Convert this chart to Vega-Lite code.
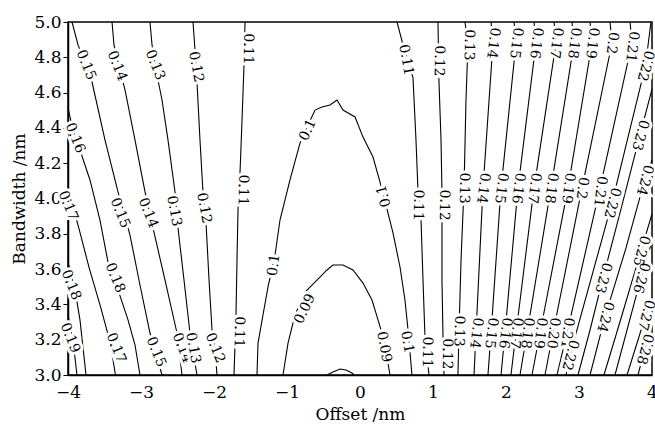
{
"$schema": "https://vega.github.io/schema/vega-lite/v6.json",
"width": 584, "height": 353,
"autosize": {"type": "none"},
"padding": {"left": 68, "top": 22, "right": 3, "bottom": 49},
"background": "white",
"config": {
  "view": {"stroke": "black", "strokeWidth": 1.5},
  "font": "DejaVu Serif",
  "axis": {"grid": false, "domainColor": "black", "domainWidth": 1.5, "tickColor": "black", "labelColor": "black", "titleColor": "black", "labelFont": "DejaVu Serif", "titleFont": "DejaVu Serif", "labelFontSize": 17, "titleFontSize": 17, "titleFontWeight": "normal"}
},
"datasets": {
 "lines": [
  {"c":"L15","i":0,"x":-3.945,"y":5.0},{"c":"L15","i":1,"x":-3.863,"y":4.87},{"c":"L15","i":2,"x":-3.753,"y":4.756},{"c":"L15","i":3,"x":-3.671,"y":4.66},{"c":"L15","i":4,"x":-3.493,"y":4.331},{"c":"L15","i":5,"x":-3.315,"y":4.037},{"c":"L15","i":6,"x":-3.151,"y":3.793},{"c":"L15","i":7,"x":-3.014,"y":3.51},{"c":"L15","i":8,"x":-2.877,"y":3.238},{"c":"L15","i":9,"x":-2.712,"y":3.0},
  {"c":"L14","i":0,"x":-3.397,"y":5.0},{"c":"L14","i":1,"x":-3.37,"y":4.87},{"c":"L14","i":2,"x":-3.288,"y":4.728},{"c":"L14","i":3,"x":-3.219,"y":4.615},{"c":"L14","i":4,"x":-3.082,"y":4.331},{"c":"L14","i":5,"x":-2.945,"y":4.037},{"c":"L14","i":6,"x":-2.836,"y":3.833},{"c":"L14","i":7,"x":-2.671,"y":3.538},{"c":"L14","i":8,"x":-2.507,"y":3.238},{"c":"L14","i":9,"x":-2.438,"y":3.0},
  {"c":"L13","i":0,"x":-2.877,"y":5.0},{"c":"L13","i":1,"x":-2.849,"y":4.87},{"c":"L13","i":2,"x":-2.795,"y":4.728},{"c":"L13","i":3,"x":-2.712,"y":4.558},{"c":"L13","i":4,"x":-2.63,"y":4.331},{"c":"L13","i":5,"x":-2.534,"y":4.037},{"c":"L13","i":6,"x":-2.493,"y":3.833},{"c":"L13","i":7,"x":-2.411,"y":3.538},{"c":"L13","i":8,"x":-2.329,"y":3.238},{"c":"L13","i":9,"x":-2.233,"y":3.0},
  {"c":"L12","i":0,"x":-2.288,"y":5.0},{"c":"L12","i":1,"x":-2.26,"y":4.841},{"c":"L12","i":2,"x":-2.233,"y":4.66},{"c":"L12","i":3,"x":-2.192,"y":4.331},{"c":"L12","i":4,"x":-2.151,"y":4.037},{"c":"L12","i":5,"x":-2.11,"y":3.867},{"c":"L12","i":6,"x":-2.068,"y":3.538},{"c":"L12","i":7,"x":-2.027,"y":3.255},{"c":"L12","i":8,"x":-1.986,"y":3.142},{"c":"L12","i":9,"x":-1.959,"y":3.0},
  {"c":"L11","i":0,"x":-1.575,"y":5.0},{"c":"L11","i":1,"x":-1.589,"y":4.756},{"c":"L11","i":2,"x":-1.616,"y":4.445},{"c":"L11","i":3,"x":-1.644,"y":4.144},{"c":"L11","i":4,"x":-1.671,"y":3.935},{"c":"L11","i":5,"x":-1.685,"y":3.652},{"c":"L11","i":6,"x":-1.699,"y":3.329},{"c":"L11","i":7,"x":-1.726,"y":3.0},
  {"c":"L16","i":0,"x":-4.0,"y":4.513},{"c":"L16","i":1,"x":-3.932,"y":4.388},{"c":"L16","i":2,"x":-3.836,"y":4.275},{"c":"L16","i":3,"x":-3.699,"y":4.105},{"c":"L16","i":4,"x":-3.562,"y":3.878},{"c":"L16","i":5,"x":-3.452,"y":3.64},{"c":"L16","i":6,"x":-3.315,"y":3.482},{"c":"L16","i":7,"x":-3.178,"y":3.312},{"c":"L16","i":8,"x":-3.082,"y":3.17},{"c":"L16","i":9,"x":-3.014,"y":3.0},
  {"c":"L17","i":0,"x":-4.0,"y":4.048},{"c":"L17","i":1,"x":-3.863,"y":3.85},{"c":"L17","i":2,"x":-3.712,"y":3.61},{"c":"L17","i":3,"x":-3.55,"y":3.38},{"c":"L17","i":4,"x":-3.42,"y":3.18},{"c":"L17","i":5,"x":-3.35,"y":3.0},
  {"c":"L18","i":0,"x":-4.0,"y":3.64},{"c":"L18","i":1,"x":-3.904,"y":3.482},{"c":"L18","i":2,"x":-3.836,"y":3.312},{"c":"L18","i":3,"x":-3.753,"y":3.0},
  {"c":"L19","i":0,"x":-4.0,"y":3.34},{"c":"L19","i":1,"x":-3.932,"y":3.198},{"c":"L19","i":2,"x":-3.877,"y":3.0},
  {"c":"C10","i":0,"x":-1.411,"y":3.0},{"c":"C10","i":1,"x":-1.397,"y":3.181},{"c":"C10","i":2,"x":-1.329,"y":3.34},{"c":"C10","i":3,"x":-1.26,"y":3.499},{"c":"C10","i":4,"x":-1.164,"y":3.68},{"c":"C10","i":5,"x":-1.096,"y":3.878},{"c":"C10","i":6,"x":-0.959,"y":4.105},{"c":"C10","i":7,"x":-0.822,"y":4.314},{"c":"C10","i":8,"x":-0.712,"y":4.416},{"c":"C10","i":9,"x":-0.616,"y":4.501},{"c":"C10","i":10,"x":-0.521,"y":4.518},{"c":"C10","i":11,"x":-0.411,"y":4.53},{"c":"C10","i":12,"x":-0.315,"y":4.558},{"c":"C10","i":13,"x":-0.233,"y":4.501},{"c":"C10","i":14,"x":-0.068,"y":4.462},{"c":"C10","i":15,"x":0.041,"y":4.348},{"c":"C10","i":16,"x":0.178,"y":4.235},{"c":"C10","i":17,"x":0.274,"y":4.093},{"c":"C10","i":18,"x":0.356,"y":3.963},{"c":"C10","i":19,"x":0.452,"y":3.805},{"c":"C10","i":20,"x":0.548,"y":3.612},{"c":"C10","i":21,"x":0.616,"y":3.425},{"c":"C10","i":22,"x":0.658,"y":3.255},{"c":"C10","i":23,"x":0.712,"y":3.0},
  {"c":"C09","i":0,"x":-1.055,"y":3.0},{"c":"C09","i":1,"x":-0.986,"y":3.181},{"c":"C09","i":2,"x":-0.89,"y":3.34},{"c":"C09","i":3,"x":-0.753,"y":3.47},{"c":"C09","i":4,"x":-0.589,"y":3.538},{"c":"C09","i":5,"x":-0.452,"y":3.595},{"c":"C09","i":6,"x":-0.37,"y":3.623},{"c":"C09","i":7,"x":-0.233,"y":3.623},{"c":"C09","i":8,"x":-0.096,"y":3.595},{"c":"C09","i":9,"x":0.041,"y":3.521},{"c":"C09","i":10,"x":0.164,"y":3.425},{"c":"C09","i":11,"x":0.247,"y":3.312},{"c":"C09","i":12,"x":0.329,"y":3.198},{"c":"C09","i":13,"x":0.411,"y":3.0},
  {"c":"C08","i":0,"x":-0.452,"y":3.0},{"c":"C08","i":1,"x":-0.37,"y":3.017},{"c":"C08","i":2,"x":-0.274,"y":3.034},{"c":"C08","i":3,"x":-0.192,"y":3.028},{"c":"C08","i":4,"x":-0.11,"y":3.011},{"c":"C08","i":5,"x":-0.082,"y":3.0},
  {"c":"R11","i":0,"x":0.507,"y":5.0},{"c":"R11","i":1,"x":0.589,"y":4.87},{"c":"R11","i":2,"x":0.726,"y":4.683},{"c":"R11","i":3,"x":0.767,"y":4.331},{"c":"R11","i":4,"x":0.795,"y":4.037},{"c":"R11","i":5,"x":0.836,"y":3.878},{"c":"R11","i":6,"x":0.863,"y":3.538},{"c":"R11","i":7,"x":0.89,"y":3.215},{"c":"R11","i":8,"x":0.945,"y":3.0},
  {"c":"R12","i":0,"x":1.068,"y":5.0},{"c":"R12","i":1,"x":1.082,"y":4.66},{"c":"R12","i":2,"x":1.11,"y":4.331},{"c":"R12","i":3,"x":1.123,"y":4.037},{"c":"R12","i":4,"x":1.123,"y":3.538},{"c":"R12","i":5,"x":1.137,"y":3.215},{"c":"R12","i":6,"x":1.151,"y":3.0},
  {"c":"R13","i":0,"x":1.438,"y":5.0},{"c":"R13","i":1,"x":1.479,"y":4.87},{"c":"R13","i":2,"x":1.452,"y":4.558},{"c":"R13","i":3,"x":1.425,"y":4.059},{"c":"R13","i":4,"x":1.384,"y":3.652},{"c":"R13","i":5,"x":1.356,"y":3.249},{"c":"R13","i":6,"x":1.342,"y":3.0},
  {"c":"R14","i":0,"x":1.795,"y":5.0},{"c":"R14","i":1,"x":1.822,"y":4.881},{"c":"R14","i":2,"x":1.685,"y":4.059},{"c":"R14","i":3,"x":1.589,"y":3.238},{"c":"R14","i":4,"x":1.562,"y":3.0},
  {"c":"R15","i":0,"x":2.11,"y":5.0},{"c":"R15","i":1,"x":2.137,"y":4.881},{"c":"R15","i":2,"x":1.932,"y":4.059},{"c":"R15","i":3,"x":1.795,"y":3.238},{"c":"R15","i":4,"x":1.753,"y":3.0},
  {"c":"R16","i":0,"x":2.384,"y":5.0},{"c":"R16","i":1,"x":2.411,"y":4.881},{"c":"R16","i":2,"x":2.164,"y":4.059},{"c":"R16","i":3,"x":1.986,"y":3.238},{"c":"R16","i":4,"x":1.932,"y":3.0},
  {"c":"R17","i":0,"x":2.658,"y":5.0},{"c":"R17","i":1,"x":2.685,"y":4.881},{"c":"R17","i":2,"x":2.384,"y":4.059},{"c":"R17","i":3,"x":2.137,"y":3.238},{"c":"R17","i":4,"x":2.068,"y":3.0},
  {"c":"R18","i":0,"x":2.904,"y":5.0},{"c":"R18","i":1,"x":2.932,"y":4.881},{"c":"R18","i":2,"x":2.616,"y":4.059},{"c":"R18","i":3,"x":2.288,"y":3.238},{"c":"R18","i":4,"x":2.192,"y":3.0},
  {"c":"R19","i":0,"x":3.151,"y":5.0},{"c":"R19","i":1,"x":3.178,"y":4.881},{"c":"R19","i":2,"x":2.849,"y":4.059},{"c":"R19","i":3,"x":2.466,"y":3.238},{"c":"R19","i":4,"x":2.356,"y":3.0},
  {"c":"R20","i":0,"x":3.425,"y":5.0},{"c":"R20","i":1,"x":3.452,"y":4.881},{"c":"R20","i":2,"x":3.041,"y":4.059},{"c":"R20","i":3,"x":2.644,"y":3.238},{"c":"R20","i":4,"x":2.534,"y":3.0},
  {"c":"R21","i":0,"x":3.699,"y":5.0},{"c":"R21","i":1,"x":3.726,"y":4.881},{"c":"R21","i":2,"x":3.288,"y":4.059},{"c":"R21","i":3,"x":2.836,"y":3.238},{"c":"R21","i":4,"x":2.699,"y":3.0},
  {"c":"R22","i":0,"x":3.986,"y":5.0},{"c":"R22","i":1,"x":3.91,"y":4.751},{"c":"R22","i":2,"x":3.452,"y":3.975},{"c":"R22","i":3,"x":2.877,"y":3.113},{"c":"R22","i":4,"x":2.822,"y":3.0},
  {"c":"R23","i":0,"x":4.0,"y":4.62},{"c":"R23","i":1,"x":3.836,"y":4.36},{"c":"R23","i":2,"x":3.589,"y":3.963},{"c":"R23","i":3,"x":3.329,"y":3.55},{"c":"R23","i":4,"x":3.151,"y":3.255},{"c":"R23","i":5,"x":2.986,"y":3.0},
  {"c":"R24","i":0,"x":4.0,"y":4.218},{"c":"R24","i":1,"x":3.9,"y":4.105},{"c":"R24","i":2,"x":3.644,"y":3.72},{"c":"R24","i":3,"x":3.356,"y":3.329},{"c":"R24","i":4,"x":3.151,"y":3.0},
  {"c":"R25","i":0,"x":4.0,"y":3.912},{"c":"R25","i":1,"x":3.849,"y":3.703},{"c":"R25","i":2,"x":3.589,"y":3.34},{"c":"R25","i":3,"x":3.342,"y":3.0},
  {"c":"R26","i":0,"x":4.0,"y":3.759},{"c":"R26","i":1,"x":3.849,"y":3.55},{"c":"R26","i":2,"x":3.493,"y":3.0},
  {"c":"R27","i":0,"x":4.0,"y":3.425},{"c":"R27","i":1,"x":3.915,"y":3.34},{"c":"R27","i":2,"x":3.658,"y":3.0},
  {"c":"R28","i":0,"x":4.0,"y":3.283},{"c":"R28","i":1,"x":3.9,"y":3.147},{"c":"R28","i":2,"x":3.808,"y":3.0}
 ],
 "lab68": [
  {"x":-3.753,"y":4.756,"t":"0.15"},{"x":-3.329,"y":4.751,"t":"0.14"},{"x":-2.808,"y":4.756,"t":"0.13"},{"x":-3.904,"y":4.343,"t":"0.16"},{"x":-3.288,"y":3.918,"t":"0.15"},{"x":-2.904,"y":3.918,"t":"0.14"},{"x":-4.0,"y":3.958,"t":"0.17"},{"x":-3.959,"y":3.51,"t":"0.18"},{"x":-3.356,"y":3.55,"t":"0.18"},{"x":-3.973,"y":3.21,"t":"0.19"},{"x":-3.342,"y":3.153,"t":"0.17"},{"x":-2.795,"y":3.13,"t":"0.15"},{"x":-2.438,"y":3.153,"t":"0.14"},{"x":-1.986,"y":3.153,"t":"0.12"}
 ],
 "lab80": [
  {"x":-2.247,"y":4.745,"t":"0.12"},{"x":-2.548,"y":3.929,"t":"0.13"},{"x":-2.137,"y":3.946,"t":"0.12"},{"x":-2.288,"y":3.153,"t":"0.13"},{"x":0.63,"y":4.785,"t":"0.11"},{"x":0.329,"y":3.159,"t":"0.09"},{"x":0.644,"y":3.187,"t":"0.1"}
 ],
 "lab90": [
  {"x":-1.534,"y":4.847,"t":"0.11"},{"x":-1.603,"y":4.048,"t":"0.11"},{"x":-1.658,"y":3.244,"t":"0.11"},{"x":0.795,"y":3.963,"t":"0.11"},{"x":0.918,"y":3.13,"t":"0.11"},{"x":1.082,"y":4.779,"t":"0.12"},{"x":1.151,"y":3.963,"t":"0.12"},{"x":1.192,"y":3.119,"t":"0.12"},{"x":1.493,"y":4.87,"t":"0.13"},{"x":1.425,"y":4.059,"t":"0.13"},{"x":1.356,"y":3.249,"t":"0.13"}
 ],
 "lab97": [
  {"x":1.822,"y":4.881,"t":"0.14"},{"x":1.685,"y":4.059,"t":"0.14"},{"x":1.589,"y":3.238,"t":"0.14"},
  {"x":2.137,"y":4.881,"t":"0.15"},{"x":1.932,"y":4.059,"t":"0.15"},{"x":1.795,"y":3.238,"t":"0.15"},
  {"x":2.411,"y":4.881,"t":"0.16"},{"x":2.164,"y":4.059,"t":"0.16"},{"x":1.986,"y":3.238,"t":"0.16"},
  {"x":2.685,"y":4.881,"t":"0.17"},{"x":2.384,"y":4.059,"t":"0.17"},{"x":2.137,"y":3.238,"t":"0.17"},
  {"x":2.932,"y":4.881,"t":"0.18"},{"x":2.616,"y":4.059,"t":"0.18"},{"x":2.288,"y":3.238,"t":"0.18"},
  {"x":3.178,"y":4.881,"t":"0.19"},{"x":2.849,"y":4.059,"t":"0.19"},{"x":2.466,"y":3.238,"t":"0.19"},
  {"x":3.452,"y":4.881,"t":"0.2"},{"x":3.041,"y":4.059,"t":"0.2"},{"x":2.644,"y":3.238,"t":"0.20"},
  {"x":3.726,"y":4.86,"t":"0.21"},{"x":3.288,"y":4.04,"t":"0.21"},{"x":2.836,"y":3.238,"t":"0.21"}
 ],
 "lab105": [
  {"x":3.91,"y":4.751,"t":"0.22"},{"x":3.452,"y":3.975,"t":"0.22"},{"x":2.877,"y":3.113,"t":"0.22"},{"x":3.836,"y":4.36,"t":"0.23"},{"x":3.329,"y":3.55,"t":"0.23"},{"x":3.9,"y":4.105,"t":"0.24"},{"x":3.356,"y":3.329,"t":"0.24"},{"x":3.849,"y":3.703,"t":"0.25"},{"x":3.849,"y":3.55,"t":"0.26"},{"x":3.915,"y":3.34,"t":"0.27"},{"x":3.9,"y":3.147,"t":"0.28"}
 ],
 "labm65": [{"x":-0.712,"y":4.388,"t":"0.1"},{"x":-0.753,"y":3.374,"t":"0.09"}],
 "labm82": [{"x":-1.178,"y":3.623,"t":"0.1"}],
 "labm105": [{"x":0.329,"y":4.014,"t":"0.1"}]
},
"encoding": {
  "x": {"field": "x", "type": "quantitative", "scale": {"domain": [-4, 4], "nice": false, "zero": false},
        "axis": {"title": "Offset /nm", "values": [-4,-3,-2,-1,0,1,2,3,4], "format": "d", "ticks": false, "labelPadding": 9, "labelFlush": false, "titlePadding": 6}},
  "y": {"field": "y", "type": "quantitative", "scale": {"domain": [3, 5], "nice": false, "zero": false},
        "axis": {"title": "Bandwidth /nm", "values": [3.0,3.2,3.4,3.6,3.8,4.0,4.2,4.4,4.6,4.8,5.0], "format": ".1f", "tickSize": 5, "labelPadding": 2, "titlePadding": 5, "labelFlush": false}}
},
"layer": [
  {"data": {"name": "lines"}, "mark": {"type": "line", "color": "black", "strokeWidth": 1.1},
   "encoding": {"detail": {"field": "c"}, "order": {"field": "i", "type": "quantitative"}}},
  {"data": {"name": "lab68"}, "encoding": {"text": {"field": "t"}}, "layer": [
    {"mark": {"type": "text", "angle": 68, "font": "DejaVu Serif", "fontSize": 14, "stroke": "white", "strokeWidth": 6, "fill": "white"}},
    {"mark": {"type": "text", "angle": 68, "font": "DejaVu Serif", "fontSize": 14, "fill": "black"}}]},
  {"data": {"name": "lab80"}, "encoding": {"text": {"field": "t"}}, "layer": [
    {"mark": {"type": "text", "angle": 80, "font": "DejaVu Serif", "fontSize": 14, "stroke": "white", "strokeWidth": 6, "fill": "white"}},
    {"mark": {"type": "text", "angle": 80, "font": "DejaVu Serif", "fontSize": 14, "fill": "black"}}]},
  {"data": {"name": "lab90"}, "encoding": {"text": {"field": "t"}}, "layer": [
    {"mark": {"type": "text", "angle": 91, "font": "DejaVu Serif", "fontSize": 14, "stroke": "white", "strokeWidth": 6, "fill": "white"}},
    {"mark": {"type": "text", "angle": 91, "font": "DejaVu Serif", "fontSize": 14, "fill": "black"}}]},
  {"data": {"name": "lab97"}, "encoding": {"text": {"field": "t"}}, "layer": [
    {"mark": {"type": "text", "angle": 97, "font": "DejaVu Serif", "fontSize": 14, "stroke": "white", "strokeWidth": 6, "fill": "white"}},
    {"mark": {"type": "text", "angle": 97, "font": "DejaVu Serif", "fontSize": 14, "fill": "black"}}]},
  {"data": {"name": "lab105"}, "encoding": {"text": {"field": "t"}}, "layer": [
    {"mark": {"type": "text", "angle": 105, "font": "DejaVu Serif", "fontSize": 14, "stroke": "white", "strokeWidth": 6, "fill": "white"}},
    {"mark": {"type": "text", "angle": 105, "font": "DejaVu Serif", "fontSize": 14, "fill": "black"}}]},
  {"data": {"name": "labm65"}, "encoding": {"text": {"field": "t"}}, "layer": [
    {"mark": {"type": "text", "angle": -65, "font": "DejaVu Serif", "fontSize": 14, "stroke": "white", "strokeWidth": 6, "fill": "white"}},
    {"mark": {"type": "text", "angle": -65, "font": "DejaVu Serif", "fontSize": 14, "fill": "black"}}]},
  {"data": {"name": "labm82"}, "encoding": {"text": {"field": "t"}}, "layer": [
    {"mark": {"type": "text", "angle": -82, "font": "DejaVu Serif", "fontSize": 14, "stroke": "white", "strokeWidth": 6, "fill": "white"}},
    {"mark": {"type": "text", "angle": -82, "font": "DejaVu Serif", "fontSize": 14, "fill": "black"}}]},
  {"data": {"name": "labm105"}, "encoding": {"text": {"field": "t"}}, "layer": [
    {"mark": {"type": "text", "angle": -105, "font": "DejaVu Serif", "fontSize": 14, "stroke": "white", "strokeWidth": 6, "fill": "white"}},
    {"mark": {"type": "text", "angle": -105, "font": "DejaVu Serif", "fontSize": 14, "fill": "black"}}]}
]
}
